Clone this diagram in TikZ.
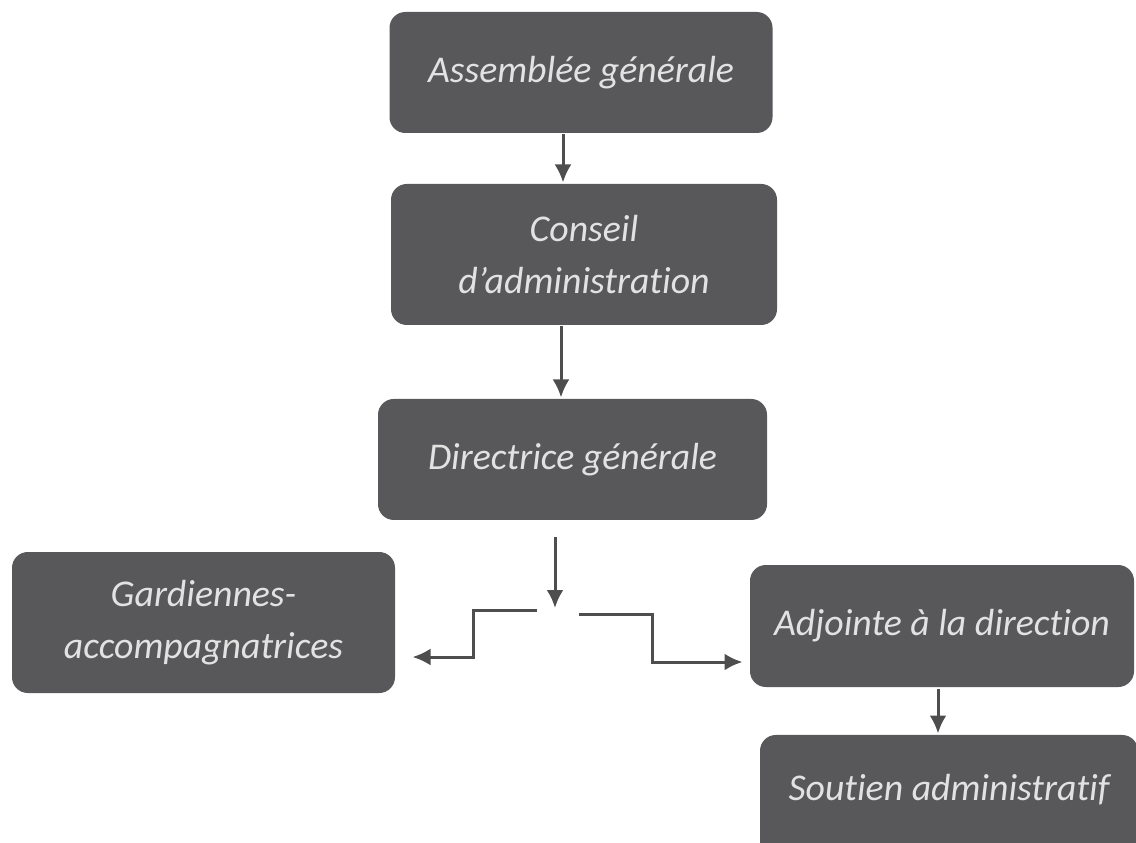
\documentclass[tikz,border=0pt]{standalone}
\usepackage{fontspec}
\setmainfont[Ligatures=NoCommon]{Carlito}
\usepackage{tikz}
\usetikzlibrary{arrows.meta}
\usetikzlibrary{positioning}
\definecolor{boxgray}{HTML}{58585A}
\definecolor{textgray}{HTML}{E2E2E2}
\definecolor{linegray}{HTML}{4E4E4E}

\begin{document}
\begin{tikzpicture}[->,>={Latex[length=0.36cm,width=0.34cm]},line width=1.7pt,draw=linegray,
  org node/.style={rectangle,rounded corners=9pt,fill=boxgray,text=textgray,align=center,
    inner sep=0pt,font=\itshape\fontsize{21.5}{30}\selectfont}]

  \clip (0,0) rectangle (22.72,-16.86);
  \useasboundingbox (0,0) rectangle (22.72,-16.86);

  \node[org node,minimum width=7.66cm,minimum height=2.42cm] (assemblee) at (11.62,-1.45) {Assemblée générale};
  \node[org node,minimum width=7.72cm,minimum height=2.82cm] (conseil) [below=0.96cm of assemblee,xshift=0.06cm] {Conseil\\d’administration};
  \node[org node,minimum width=7.78cm,minimum height=2.42cm] (directrice) [below=1.42cm of conseil,xshift=-0.23cm] {Directrice générale};
  \node[org node,minimum width=7.66cm,minimum height=2.82cm] (gardiennes) at (4.07,-12.45) {Gardiennes-\\accompagnatrices};
  \node[org node,minimum width=7.68cm,minimum height=2.44cm] (adjointe) at (18.84,-12.52) {Adjointe à la direction};
  \node[org node,minimum width=7.56cm,minimum height=2.6cm,text depth=0pt] (soutien) [below=0.9cm of adjointe,xshift=0.14cm] {\raisebox{0.5cm}{Soutien administratif}};

  \coordinate (top) at (11.1,-10.74);
  \coordinate (split) at (11.1,-12.16);
  \coordinate (left) at (10.74,-12.2);
  \coordinate (right) at (11.58,-12.28);

  \draw ([xshift=-0.36cm]assemblee.south) -- ([xshift=-0.36cm]assemblee.south |- conseil.north);
  \draw ([xshift=-0.46cm]conseil.south) -- ([xshift=-0.46cm]conseil.south |- directrice.north);
  \draw (top) -- (split);
  \draw (left) -- ++(-1.28,0) |- ([xshift=0.32cm,yshift=-0.69cm]gardiennes.east);
  \draw (right) -- ++(1.46,0) |- ([xshift=-0.12cm,yshift=-0.72cm]adjointe.west);
  \draw ([xshift=-0.08cm]adjointe.south) -- ([xshift=-0.08cm]adjointe.south |- soutien.north);
\end{tikzpicture}
\end{document}
